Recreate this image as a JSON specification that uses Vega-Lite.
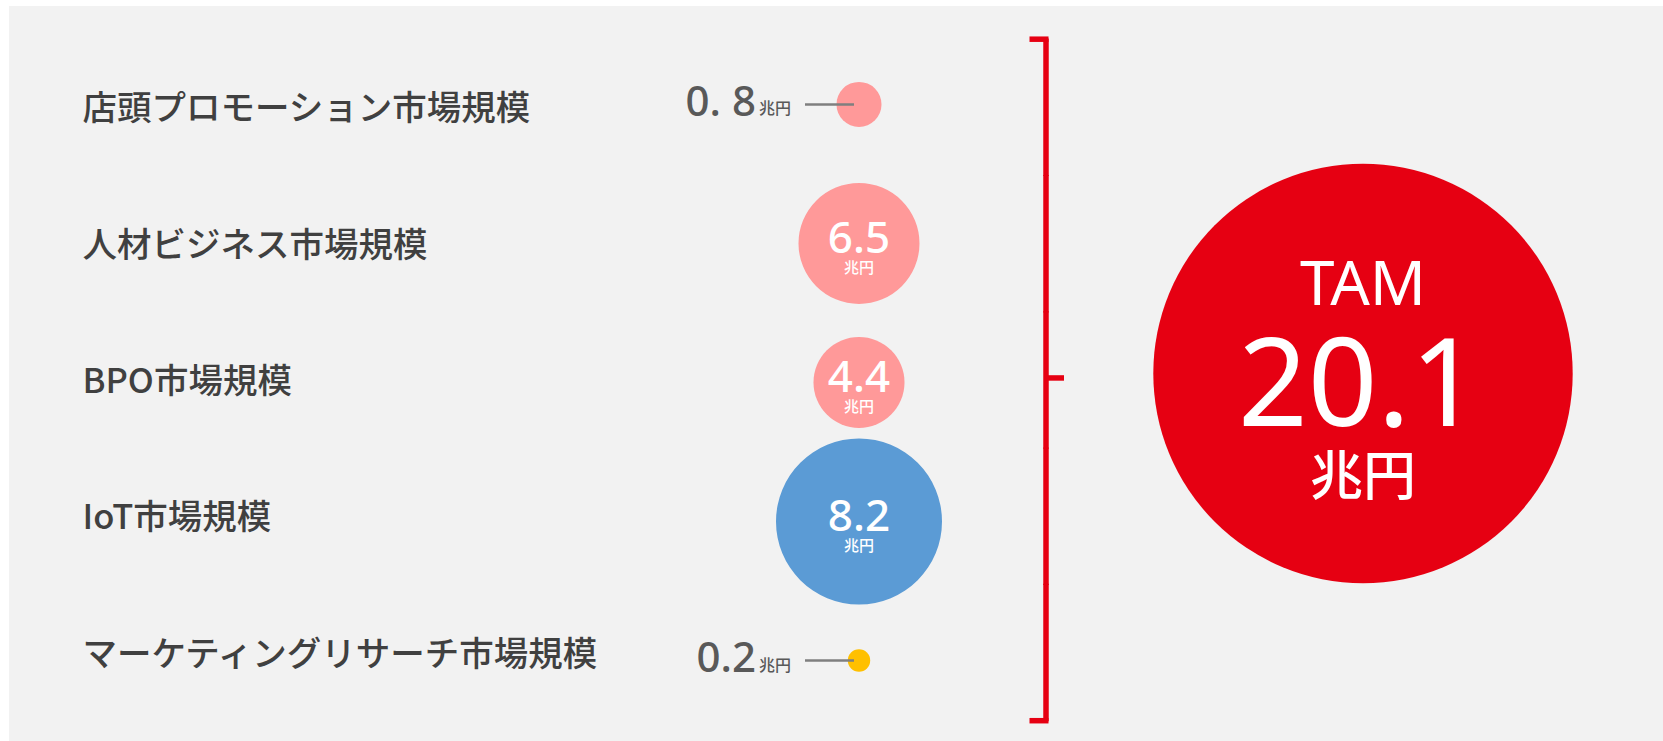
{
  "$schema": "https://vega.github.io/schema/vega-lite/v6.json",
  "width": 1663,
  "height": 741,
  "autosize": {"type": "fit", "contains": "padding"},
  "padding": {"left": 9, "top": 6, "right": 0, "bottom": 0},
  "background": "#ffffff",
  "config": {"view": {"fill": "#f2f2f2", "stroke": null}},
  "datasets": {
    "markets": [
      {"name": "店頭プロモーション市場規模", "value": 0.8, "label": "0. 8", "kind": "market"},
      {"name": "人材ビジネス市場規模", "value": 6.5, "label": "6.5", "kind": "market"},
      {"name": "BPO市場規模", "value": 4.4, "label": "4.4", "kind": "market"},
      {"name": "IoT市場規模", "value": 8.2, "label": "8.2", "kind": "market"},
      {"name": "マーケティングリサーチ市場規模", "value": 0.2, "label": "0.2", "kind": "market"}
    ],
    "total": [
      {"name": "TAM", "value": 20.1, "label": "20.1", "kind": "total"}
    ]
  },
  "resolve": {"scale": {"y": "independent"}},
  "layer": [
    {
      "data": {"name": "markets"},
      "encoding": {
        "x": {"field": "kind", "type": "nominal", "scale": {"type": "point", "domain": ["market", "total"], "range": [850, 1354], "padding": 0}, "axis": null},
        "y": {
          "field": "name", "type": "nominal", "sort": null,
          "scale": {
            "type": "band",
            "domain": ["店頭プロモーション市場規模", "人材ビジネス市場規模", "BPO市場規模", "IoT市場規模", "マーケティングリサーチ市場規模"],
            "range": [33.2, 714.7], "paddingInner": 0, "paddingOuter": 0
          },
          "axis": {
            "title": null, "domain": false, "ticks": false, "tickSize": 0, "grid": false,
            "labelAlign": "left", "labelBaseline": "middle", "labelPadding": -73,
            "labelFont": "Noto Sans CJK JP", "labelFontSize": 34.5, "labelFontWeight": 500,
            "labelColor": "#404040", "labelLimit": 0, "labelOverlap": false, "labelOffset": 3
          }
        }
      },
      "layer": [
        {
          "mark": {"type": "tick", "orient": "vertical", "size": 137.5, "thickness": 5.5, "color": "#e60012", "opacity": 1, "xOffset": 187}
        },
        {
          "transform": [{"filter": "datum.name == '店頭プロモーション市場規模'"}],
          "mark": {"type": "tick", "orient": "horizontal", "size": 19, "thickness": 5.5, "color": "#e60012", "opacity": 1, "xOffset": 180, "yOffset": -68.15}
        },
        {
          "transform": [{"filter": "datum.name == 'マーケティングリサーチ市場規模'"}],
          "mark": {"type": "tick", "orient": "horizontal", "size": 19, "thickness": 5.5, "color": "#e60012", "opacity": 1, "xOffset": 180, "yOffset": 68.15}
        },
        {
          "transform": [{"filter": "datum.name == 'BPO市場規模'"}],
          "mark": {"type": "tick", "orient": "horizontal", "size": 18, "thickness": 5.5, "color": "#e60012", "opacity": 1, "xOffset": 196, "yOffset": -2}
        }
      ]
    },
    {
      "data": {"name": "markets"},
      "encoding": {
        "y": {
          "field": "name", "type": "nominal", "sort": null,
          "scale": {
            "type": "point",
            "domain": ["店頭プロモーション市場規模", "人材ビジネス市場規模", "BPO市場規模", "IoT市場規模", "マーケティングリサーチ市場規模"],
            "range": [98.4, 654.5], "padding": 0
          },
          "axis": null
        },
        "x": {"field": "kind", "type": "nominal", "scale": {"type": "point", "domain": ["market", "total"], "range": [850, 1354], "padding": 0}, "axis": null}
      },
      "layer": [
        {
          "mark": {"type": "circle", "opacity": 1},
          "encoding": {
            "size": {
              "field": "value", "type": "quantitative", "legend": null,
              "scale": {"type": "linear", "zero": false, "nice": false,
                        "domain": [0.2, 0.8, 4.4, 6.5, 8.2, 20.1],
                        "range": [502, 2025, 8281, 14641, 27556, 175900]}
            },
            "color": {
              "field": "name", "type": "nominal", "legend": null,
              "scale": {
                "domain": ["店頭プロモーション市場規模", "人材ビジネス市場規模", "BPO市場規模", "IoT市場規模", "マーケティングリサーチ市場規模", "TAM"],
                "range": ["#ff9999", "#ff9999", "#ff9999", "#5b9bd5", "#ffc000", "#e60012"]
              }
            }
          }
        },
        {
          "transform": [{"filter": "datum.value < 1"}],
          "mark": {"type": "rule", "color": "#7f7f7f", "strokeWidth": 2.5, "xOffset": -54, "x2Offset": -5},
          "encoding": {"x2": {"field": "kind"}}
        },
        {
          "transform": [{"filter": "datum.value < 1"}],
          "mark": {"type": "text", "align": "right", "baseline": "alphabetic", "dx": -103, "dy": 11.5, "font": "Noto Sans", "fontSize": 42, "fontWeight": 500, "color": "#595959"},
          "encoding": {"text": {"field": "label"}}
        },
        {
          "transform": [{"filter": "datum.value < 1"}],
          "mark": {"type": "text", "align": "left", "baseline": "alphabetic", "dx": -100, "dy": 10, "font": "Noto Sans CJK JP", "fontSize": 16, "fontWeight": 500, "color": "#595959", "text": "兆円"}
        },
        {
          "transform": [{"filter": "datum.value >= 1"}],
          "mark": {"type": "text", "align": "center", "baseline": "alphabetic", "dy": 9.5, "font": "Noto Sans", "fontSize": 44, "fontWeight": 500, "color": "#ffffff"},
          "encoding": {"text": {"field": "label"}}
        },
        {
          "transform": [{"filter": "datum.value >= 1"}],
          "mark": {"type": "text", "align": "center", "baseline": "alphabetic", "dy": 30, "font": "Noto Sans CJK JP", "fontSize": 15, "fontWeight": 500, "color": "#ffffff", "text": "兆円"}
        }
      ]
    },
    {
      "data": {"name": "total"},
      "encoding": {
        "x": {"field": "kind", "type": "nominal", "scale": {"type": "point", "domain": ["market", "total"], "range": [850, 1354], "padding": 0}, "axis": null}
      },
      "layer": [
        {
          "mark": {"type": "circle", "opacity": 1},
          "encoding": {
            "size": {"field": "value", "type": "quantitative", "legend": null},
            "color": {"field": "name", "type": "nominal", "legend": null}
          }
        },
        {
          "mark": {"type": "text", "align": "center", "baseline": "alphabetic", "dy": -69, "font": "Noto Sans", "fontSize": 62, "color": "#ffffff", "text": "TAM"}
        },
        {
          "mark": {"type": "text", "align": "center", "baseline": "alphabetic", "dy": 52, "dx": -4, "font": "Noto Sans", "fontSize": 122, "color": "#ffffff"},
          "encoding": {"text": {"field": "label"}}
        },
        {
          "mark": {"type": "text", "align": "center", "baseline": "alphabetic", "dy": 121, "font": "Noto Sans CJK JP", "fontSize": 53, "fontWeight": 500, "color": "#ffffff", "text": "兆円"}
        }
      ]
    }
  ]
}
